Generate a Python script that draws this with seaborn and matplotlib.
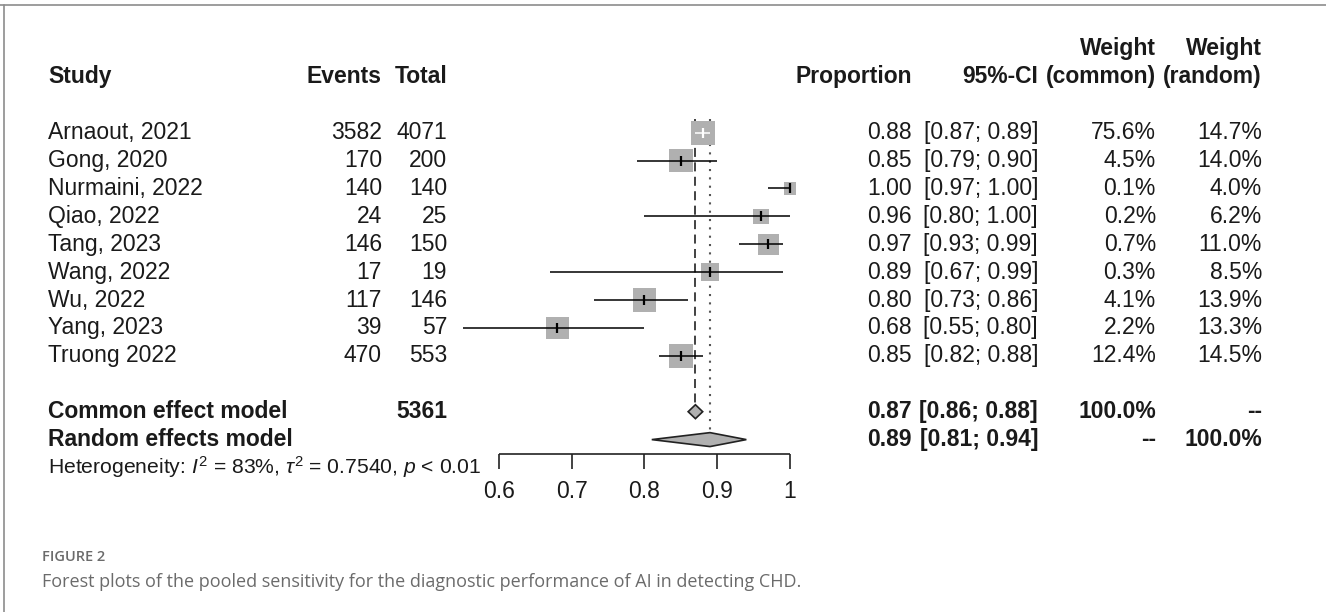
import numpy as np
import pandas as pd
import matplotlib
matplotlib.use('Agg')
import matplotlib.pyplot as plt
import matplotlib.transforms as mtransforms
from matplotlib.lines import Line2D
import seaborn as sns

# ---- data ----
studies = ['Arnaout, 2021', 'Gong, 2020', 'Nurmaini, 2022', 'Qiao, 2022', 'Tang, 2023',
           'Wang, 2022', 'Wu, 2022', 'Yang, 2023', 'Truong 2022']
events = [3582, 170, 140, 24, 146, 17, 117, 39, 470]
totals = [4071, 200, 140, 25, 150, 19, 146, 57, 553]
props = [0.88, 0.85, 1.00, 0.96, 0.97, 0.89, 0.80, 0.68, 0.85]
ci_low = [0.87, 0.79, 0.97, 0.80, 0.93, 0.67, 0.73, 0.55, 0.82]
ci_high = [0.89, 0.90, 1.00, 1.00, 0.99, 0.99, 0.86, 0.80, 0.88]
w_common = [75.6, 4.5, 0.1, 0.2, 0.7, 0.3, 4.1, 2.2, 12.4]
w_random = [14.7, 14.0, 4.0, 6.2, 11.0, 8.5, 13.9, 13.3, 14.5]

common_est, common_lo, common_hi = 0.87, 0.86, 0.88
random_est, random_lo, random_hi = 0.89, 0.81, 0.94
total_n = 5361
tick_values = [0.6, 0.7, 0.8, 0.9, 1.0]
tick_labels = ['0.6', '0.7', '0.8', '0.9', '1']

df = pd.DataFrame({'study': studies, 'events': events, 'total': totals, 'prop': props,
                   'lo': ci_low, 'hi': ci_high, 'wc': w_common, 'wr': w_random})
df['row'] = np.arange(1, len(df) + 1)

# ---- layout (pixels of the 1326x612 canvas) ----
W, H = 1326, 612
px0, px_per_unit = 499, 727.5      # x pixel of 0.6, pixels per proportion unit
py1, py_per_row = 132.7, 27.9      # y pixel of row 1, pixels per row
row_common, row_random, row_het = 11, 12, 13
row_axis, row_ticklab = 12.5, 13.85
max_side_px = 24

sns.set_theme(style='white')
plt.rcParams['font.family'] = ['Liberation Sans', 'DejaVu Sans']
plt.rcParams['mathtext.fontset'] = 'custom'
plt.rcParams['mathtext.rm'] = 'Liberation Sans'
plt.rcParams['mathtext.it'] = 'Liberation Sans:italic'

fig = plt.figure(figsize=(W / 100, H / 100), dpi=100)
ax = fig.add_axes([0, 0, 1, 1])
ax.set_xlim(0.6 - px0 / px_per_unit, 0.6 + (W - px0) / px_per_unit)
ax.set_ylim(1 + (H - py1) / py_per_row, 1 - py1 / py_per_row)
ax.axis('off')

txt_col = '#1a1a1a'
sq_col = '#b0b0b0'
fs = 16.5

# reference lines for pooled estimates
ax.vlines(common_est, 0.5, row_common - 0.25, colors='#333333', linestyles=(0, (5, 3)), lw=1.3, zorder=1)
ax.vlines(random_est, 0.5, row_random - 0.25, colors='#555555', linestyles=(0, (1, 3)), lw=1.5, zorder=1)

# squares, area proportional to random-effects weight
sns.scatterplot(data=df, x='prop', y='row', size='wr', sizes=(0, (max_side_px * 0.72) ** 2),
                size_norm=(0, max(w_random)), marker='s', color=sq_col, edgecolor='none',
                legend=False, ax=ax, zorder=2)

# confidence intervals and point estimate ticks
for _, r in df.iterrows():
    side_px = max_side_px * np.sqrt(r['wr'] / max(w_random))
    inside = (r['hi'] - r['lo']) * px_per_unit < side_px
    c = 'white' if inside else 'black'
    ax.hlines(r['row'], r['lo'], r['hi'], colors=c, lw=1.1, zorder=3)
    ax.plot(r['prop'], r['row'], marker='|', ms=7, mew=1.6, color=c, zorder=4)

# pooled diamonds
for row, est, lo, hi in [(row_common, common_est, common_lo, common_hi),
                         (row_random, random_est, random_lo, random_hi)]:
    h = 0.25
    ax.fill([lo, est, hi, est], [row, row - h, row, row + h], facecolor=sq_col,
            edgecolor='#222222', lw=1.2, zorder=3)

# x axis
ax.hlines(row_axis, tick_values[0], tick_values[-1], colors='#222222', lw=1.2)
ax.vlines(tick_values, row_axis, row_axis + 0.55, colors='#222222', lw=1.2)
for v, lab in zip(tick_values, tick_labels):
    ax.text(v, row_ticklab, lab, ha='center', va='center', fontsize=fs, color=txt_col)

# ---- text columns ----
trans = mtransforms.blended_transform_factory(fig.transFigure, ax.transData)
x_study, x_events, x_total = 48 / W, 382 / W, 447 / W
x_prop, x_ci, x_wc, x_wr = 912 / W, 1038 / W, 1156 / W, 1262 / W


def put(x, y, s, ha='right', bold=False, size=fs):
    ax.text(x, y, s, transform=trans, ha=ha, va='center', fontsize=size,
            fontweight='bold' if bold else 'normal', color=txt_col)


# header
put(x_study, -1, 'Study', ha='left', bold=True)
put(x_events, -1, 'Events', bold=True)
put(x_total, -1, 'Total', bold=True)
put(x_prop, -1, 'Proportion', bold=True)
put(x_ci, -1, '95%-CI', bold=True)
put(x_wc, -2, 'Weight', bold=True)
put(x_wc, -1, '(common)', bold=True)
put(x_wr, -2, 'Weight', bold=True)
put(x_wr, -1, '(random)', bold=True)

for _, r in df.iterrows():
    put(x_study, r['row'], r['study'], ha='left')
    put(x_events, r['row'], f"{r['events']}")
    put(x_total, r['row'], f"{r['total']}")
    put(x_prop, r['row'], f"{r['prop']:.2f}")
    put(x_ci, r['row'], f"[{r['lo']:.2f}; {r['hi']:.2f}]")
    put(x_wc, r['row'], f"{r['wc']:.1f}%")
    put(x_wr, r['row'], f"{r['wr']:.1f}%")

put(x_study, row_common, 'Common effect model', ha='left', bold=True)
put(x_total, row_common, f'{total_n}', bold=True)
put(x_prop, row_common, f'{common_est:.2f}', bold=True)
put(x_ci, row_common, f'[{common_lo:.2f}; {common_hi:.2f}]', bold=True)
put(x_wc, row_common, '100.0%', bold=True)
put(x_wr, row_common, '--', bold=True)

put(x_study, row_random, 'Random effects model', ha='left', bold=True)
put(x_prop, row_random, f'{random_est:.2f}', bold=True)
put(x_ci, row_random, f'[{random_lo:.2f}; {random_hi:.2f}]', bold=True)
put(x_wc, row_random, '--', bold=True)
put(x_wr, row_random, '100.0%', bold=True)

put(x_study, row_het, r'Heterogeneity: $I^2$ = 83%, $\tau^2$ = 0.7540, $p$ < 0.01', ha='left', size=15.2)

# ---- frame and caption ----
fig.add_artist(Line2D([0, 1], [1 - 5 / H, 1 - 5 / H], transform=fig.transFigure, color='#8c8c8c', lw=1.2))
fig.add_artist(Line2D([4 / W, 4 / W], [0, 1 - 5 / H], transform=fig.transFigure, color='#8c8c8c', lw=1.2))
fig.text(42 / W, 1 - 557 / H, 'FIGURE 2', family=['Open Sans', 'DejaVu Sans'], fontweight='semibold',
         fontsize=10.5, color='#6b6b6b', ha='left', va='center')
fig.text(42 / W, 1 - 582 / H,
         'Forest plots of the pooled sensitivity for the diagnostic performance of AI in detecting CHD.',
         family=['Open Sans', 'DejaVu Sans'], fontsize=13, color='#6b6b6b', ha='left', va='center')

fig.savefig('out.png', dpi=100)
print('saved out.png')
